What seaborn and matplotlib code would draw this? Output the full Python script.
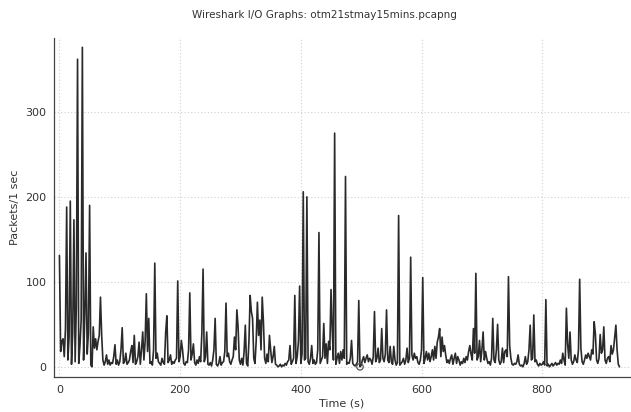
import matplotlib
matplotlib.use("Agg")
import matplotlib.pyplot as plt
from matplotlib.ticker import MultipleLocator
import seaborn as sns
import pandas as pd

# Time axis: 2-second bins, 0 .. 928 s
time_s = list(range(0, 930, 2))

# Packets per second (one value per 2 s bin)
packets = [
    131, 18, 30, 33, 12, 45, 188, 8, 35, 195,
    3, 40, 173, 6, 70, 362, 4, 25, 55, 376,
    8, 60, 134, 15, 40, 190, 2, 0, 47, 22,
    33, 20, 30, 37, 82, 37, 8, 2, 6, 14,
    3, 8, 2, 5, 4, 12, 26, 3, 8, 2,
    6, 20, 46, 4, 6, 16, 3, 5, 8, 18,
    25, 5, 37, 3, 6, 12, 29, 3, 20, 41,
    8, 30, 86, 18, 57, 4, 6, 2, 20, 122,
    10, 16, 6, 4, 2, 10, 5, 3, 40, 60,
    5, 8, 14, 3, 6, 4, 8, 10, 101, 6,
    12, 31, 20, 4, 2, 6, 5, 20, 87, 8,
    15, 27, 5, 2, 8, 4, 12, 6, 40, 115,
    6, 12, 41, 3, 2, 5, 1, 8, 20, 57,
    3, 1, 4, 12, 2, 5, 6, 18, 75, 12,
    16, 6, 3, 8, 12, 35, 20, 67, 47, 8,
    3, 10, 2, 18, 49, 4, 1, 30, 84, 65,
    57, 10, 4, 30, 76, 37, 55, 20, 82, 53,
    10, 4, 15, 6, 37, 20, 5, 12, 24, 3,
    2, 0, 1, 3, 0, 2, 1, 4, 2, 6,
    8, 25, 3, 6, 10, 84, 4, 12, 30, 95,
    4, 15, 206, 8, 10, 200, 6, 3, 10, 25,
    4, 8, 3, 5, 20, 158, 4, 8, 12, 51,
    10, 27, 4, 30, 20, 91, 43, 8, 275, 3,
    10, 16, 4, 18, 8, 20, 10, 224, 3, 5,
    4, 10, 31, 4, 2, 1, 3, 6, 78, 0,
    2, 8, 12, 5, 10, 14, 6, 10, 8, 3,
    12, 65, 6, 10, 22, 5, 8, 45, 10, 6,
    15, 67, 8, 5, 24, 6, 3, 24, 8, 2,
    5, 178, 2, 4, 6, 10, 3, 8, 22, 5,
    10, 129, 14, 8, 16, 10, 12, 5, 3, 8,
    20, 105, 4, 10, 18, 8, 16, 6, 12, 20,
    8, 24, 10, 29, 35, 45, 12, 35, 18, 25,
    14, 5, 8, 4, 10, 14, 3, 10, 16, 4,
    12, 8, 2, 6, 4, 10, 5, 12, 8, 18,
    25, 15, 8, 45, 16, 110, 8, 12, 31, 6,
    20, 41, 8, 18, 10, 4, 6, 2, 10, 57,
    8, 5, 20, 50, 8, 3, 6, 22, 5, 18,
    20, 12, 106, 25, 10, 3, 2, 4, 3, 6,
    14, 3, 1, 2, 0, 4, 12, 3, 6, 20,
    49, 8, 10, 61, 6, 8, 3, 1, 4, 2,
    3, 6, 2, 79, 1, 3, 0, 2, 4, 1,
    3, 5, 2, 4, 3, 8, 4, 16, 8, 2,
    69, 27, 10, 41, 8, 3, 6, 14, 8, 5,
    20, 103, 22, 6, 3, 8, 14, 10, 16, 12,
    8, 20, 15, 53, 39, 8, 4, 10, 38, 16,
    20, 47, 8, 4, 10, 12, 6, 25, 15, 20,
    35, 49, 20, 3, 0,
]

# Highlighted (selected) sample shown as a hollow circle
marker_t = [498]
marker_v = [0]

title = "Wireshark I/O Graphs: otm21stmay15mins.pcapng"
xlabel = "Time (s)"
ylabel = "Packets/1 sec"
xticks = [0, 200, 400, 600, 800]
yticks = [0, 100, 200, 300]

df = pd.DataFrame({"t": time_s, "v": packets})

sns.set_style("white")
plt.rcParams["font.family"] = ["DejaVu Sans"]

fig = plt.figure(figsize=(6.31, 4.12), dpi=100)
ax = fig.add_axes([54 / 631, 1 - 377 / 412, 1 - 54 / 631 - 0.001, (377 - 38) / 412])

sns.lineplot(data=df, x="t", y="v", ax=ax, color="#2a2a2a", linewidth=1.2)
ax.scatter(marker_t, marker_v, s=22, facecolors="none", edgecolors="#555555",
           linewidths=0.9, zorder=5)

ax.set_xlim(-9, 946)
ax.set_ylim(-12, 387)
ax.set_xticks(xticks)
ax.set_yticks(yticks)
ax.xaxis.set_minor_locator(MultipleLocator(50))
ax.yaxis.set_minor_locator(MultipleLocator(20))
ax.tick_params(axis="both", which="major", direction="inout", length=5, width=0.8,
               color="#444444", labelsize=8, labelcolor="#333333", pad=3)
ax.tick_params(axis="both", which="minor", direction="inout", length=3, width=0.6,
               color="#444444")
ax.grid(True, which="major", linestyle=(0, (1, 2)), color="#d0d0d0", linewidth=0.8)
ax.set_axisbelow(True)

for s in ["top", "right"]:
    ax.spines[s].set_visible(False)
for s in ["left", "bottom"]:
    ax.spines[s].set_color("#444444")
    ax.spines[s].set_linewidth(0.9)

ax.set_xlabel("")
ax.set_ylabel("")
fig.text(342 / 631, 1 - 403 / 412, xlabel, ha="center", va="center",
         fontsize=8, color="#333333")
fig.text(15 / 631, 1 - 207 / 412, ylabel, ha="center", va="center",
         rotation=90, fontsize=8, color="#333333")
fig.text(324 / 631, 1 - 15 / 412, title, ha="center", va="center",
         fontsize=7.5, color="#333333")

fig.savefig("out.png", dpi=100)
